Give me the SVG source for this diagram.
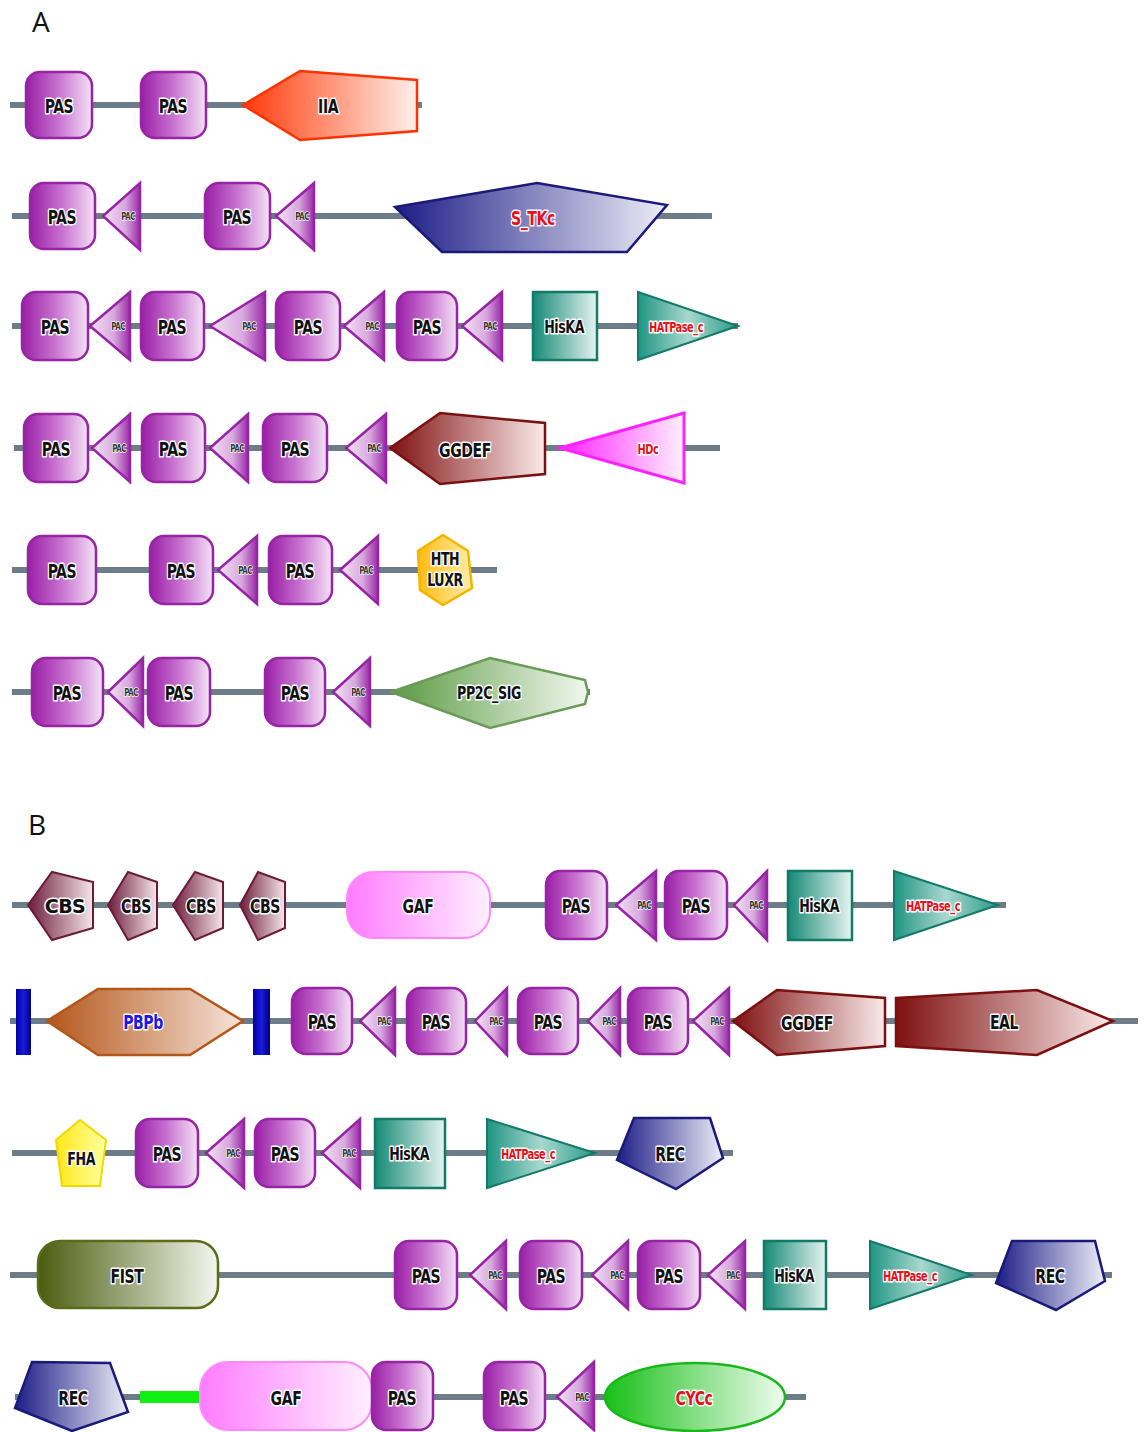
<svg xmlns="http://www.w3.org/2000/svg" width="1144" height="1432" viewBox="0 0 1144 1432">
<defs>
<linearGradient id="gPas" x1="0" y1="0" x2="1" y2="0"><stop offset="0" stop-color="#9a1fa6"/><stop offset="0.5" stop-color="#c873d0"/><stop offset="1" stop-color="#f4e2f6"/></linearGradient>
<linearGradient id="gPac" x1="0" y1="0" x2="1" y2="0"><stop offset="0" stop-color="#f3e4f5"/><stop offset="0.6" stop-color="#d8a8de"/><stop offset="1" stop-color="#9a2aa8"/></linearGradient>
<linearGradient id="gTeal" x1="0" y1="0" x2="1" y2="0"><stop offset="0" stop-color="#168a76"/><stop offset="1" stop-color="#e6f4f1"/></linearGradient>
<linearGradient id="gHat" x1="0" y1="0" x2="1" y2="0"><stop offset="0" stop-color="#1e9582"/><stop offset="0.5" stop-color="#a8d8cf"/><stop offset="1" stop-color="#2a9a88"/></linearGradient>
<linearGradient id="gRed" x1="0" y1="0" x2="1" y2="0"><stop offset="0" stop-color="#ff3a0a"/><stop offset="1" stop-color="#fff0ea"/></linearGradient>
<linearGradient id="gNavy" x1="0" y1="0" x2="1" y2="0"><stop offset="0" stop-color="#1c1c86"/><stop offset="1" stop-color="#eeeef8"/></linearGradient>
<linearGradient id="gMaroon" x1="0" y1="0" x2="1" y2="0"><stop offset="0" stop-color="#801010"/><stop offset="1" stop-color="#fbeaea"/></linearGradient>
<linearGradient id="gMag" x1="0" y1="0" x2="1" y2="0"><stop offset="0" stop-color="#ff22ff"/><stop offset="1" stop-color="#fff0ff"/></linearGradient>
<linearGradient id="gYel" x1="0" y1="0" x2="1" y2="0"><stop offset="0" stop-color="#ffbb10"/><stop offset="1" stop-color="#ffeeaa"/></linearGradient>
<linearGradient id="gGreen" x1="0" y1="0" x2="1" y2="0"><stop offset="0" stop-color="#5a9a42"/><stop offset="1" stop-color="#f2f8ee"/></linearGradient>
<linearGradient id="gCbs" x1="0" y1="0" x2="1" y2="0"><stop offset="0" stop-color="#6e1c3a"/><stop offset="1" stop-color="#f5e6ea"/></linearGradient>
<linearGradient id="gGaf" x1="0" y1="0" x2="1" y2="0"><stop offset="0" stop-color="#ff7cff"/><stop offset="1" stop-color="#fff0ff"/></linearGradient>
<linearGradient id="gPbp" x1="0" y1="0" x2="1" y2="0"><stop offset="0" stop-color="#b4561a"/><stop offset="1" stop-color="#f6e4da"/></linearGradient>
<linearGradient id="gFist" x1="0" y1="0" x2="1" y2="0"><stop offset="0" stop-color="#4a5c0e"/><stop offset="1" stop-color="#f4f6ee"/></linearGradient>
<linearGradient id="gFha" x1="0" y1="0" x2="1" y2="0"><stop offset="0" stop-color="#ffe81a"/><stop offset="1" stop-color="#ffffa0"/></linearGradient>
<linearGradient id="gCyc" x1="0" y1="0" x2="1" y2="0"><stop offset="0" stop-color="#18c018"/><stop offset="1" stop-color="#effcef"/></linearGradient>
<linearGradient id="gBar" x1="0" y1="0" x2="1" y2="0"><stop offset="0" stop-color="#0000a0"/><stop offset="0.5" stop-color="#1a1ae0"/><stop offset="1" stop-color="#00007a"/></linearGradient>
</defs>
<style>
.bb{stroke:#6c7c88;stroke-width:6;fill:none}
.pas{fill:url(#gPas);stroke:#9624a4;stroke-width:2.5}
.pac{fill:url(#gPac);stroke:#9624a4;stroke-width:2.5;stroke-linejoin:miter}
.hk{fill:url(#gTeal);stroke:#137a68;stroke-width:2.5}
.hat{fill:url(#gHat);stroke:#137a68;stroke-width:2}
.rec{fill:url(#gNavy);stroke:#1a1a7a;stroke-width:2.5}
.gg{fill:url(#gMaroon);stroke:#7a1010;stroke-width:2.5}
.cbs{fill:url(#gCbs);stroke:#6a1a36;stroke-width:2}
.gaf{fill:url(#gGaf);stroke:#ff88ff;stroke-width:2}
.t{font-family:"DejaVu Sans Condensed","Liberation Sans Narrow","Liberation Sans",sans-serif;font-weight:bold;text-anchor:middle;dominant-baseline:central;paint-order:stroke;stroke:#fff;stroke-width:3;stroke-linejoin:round;fill:#111;font-size:20px;letter-spacing:-0.5px;transform-box:fill-box;transform-origin:center;transform:scaleX(0.78)}
.s{font-size:10px;stroke-width:1.5;letter-spacing:-0.6px;fill:#333}
.m{font-size:18px}
.hs{font-size:14px;fill:#e8101a;letter-spacing:-0.6px}
.red{fill:#e8101a}
.cb{font-family:"DejaVu Sans",sans-serif;transform:none;font-size:19px}
.lab{font-family:"Open Sans","DejaVu Sans",sans-serif;font-size:28px;fill:#111}
</style>
<text class="lab" x="32" y="32">A</text>
<text class="lab" x="28" y="835">B</text>
<g id="connectors">
<line class="bb" x1="10" y1="105" x2="422" y2="105"/>
<line class="bb" x1="12" y1="216" x2="712" y2="216"/>
<line class="bb" x1="12" y1="326" x2="738" y2="326"/>
<line class="bb" x1="14" y1="448" x2="720" y2="448"/>
<line class="bb" x1="12" y1="570" x2="497" y2="570"/>
<line class="bb" x1="12" y1="692" x2="590" y2="692"/>
<line class="bb" x1="12" y1="905" x2="1006" y2="905"/>
<line class="bb" x1="10" y1="1021" x2="1138" y2="1021"/>
<line class="bb" x1="12" y1="1153" x2="733" y2="1153"/>
<line class="bb" x1="10" y1="1275" x2="1112" y2="1275"/>
<line class="bb" x1="15" y1="1397" x2="806" y2="1397"/>
</g>
<!-- Row A1 -->
<g id="a1-pas1"><rect class="pas" x="26" y="72" width="66" height="66" rx="14"/><text class="t" x="59" y="106">PAS</text></g>
<g id="a1-pas2"><rect class="pas" x="141" y="72" width="65" height="66" rx="14"/><text class="t" x="173" y="106">PAS</text></g>
<g id="a1-iia"><polygon points="243,105 300,71 417,80 417,131 300,140" fill="url(#gRed)" stroke="#ff3300" stroke-width="2.5"/><text class="t" x="328" y="106">IIA</text></g>
<!-- Row A2 -->
<g id="a2-pas1"><rect class="pas" x="30" y="183" width="65" height="66" rx="14"/><text class="t" x="62" y="217">PAS</text></g>
<g id="a2-pac1"><polygon class="pac" points="103,216 140,183 140,250"/><text class="t s" x="128" y="217">PAC</text></g>
<g id="a2-pas2"><rect class="pas" x="205" y="183" width="65" height="66" rx="14"/><text class="t" x="237" y="217">PAS</text></g>
<g id="a2-pac2"><polygon class="pac" points="276,216 314,183 314,250"/><text class="t s" x="302" y="217">PAC</text></g>
<g id="a2-stkc"><polygon points="395,207 537,183 667,205 627,252 442,252" fill="url(#gNavy)" stroke="#1a1a7a" stroke-width="2.5"/><text class="t red" x="533" y="218">S_TKc</text></g>
<!-- Row A3 -->
<g id="a3-pas1"><rect class="pas" x="22" y="292" width="66" height="68" rx="14"/><text class="t" x="55" y="327">PAS</text></g>
<g id="a3-pac1"><polygon class="pac" points="90,326 130,292 130,360"/><text class="t s" x="118" y="327">PAC</text></g>
<g id="a3-pas2"><rect class="pas" x="141" y="292" width="63" height="68" rx="14"/><text class="t" x="172" y="327">PAS</text></g>
<g id="a3-pac2"><polygon class="pac" points="210,326 265,292 265,360"/><text class="t s" x="249" y="327">PAC</text></g>
<g id="a3-pas3"><rect class="pas" x="276" y="292" width="64" height="68" rx="14"/><text class="t" x="308" y="327">PAS</text></g>
<g id="a3-pac3"><polygon class="pac" points="344,326 384,292 384,360"/><text class="t s" x="372" y="327">PAC</text></g>
<g id="a3-pas4"><rect class="pas" x="397" y="292" width="60" height="68" rx="14"/><text class="t" x="427" y="327">PAS</text></g>
<g id="a3-pac4"><polygon class="pac" points="462,326 502,292 502,360"/><text class="t s" x="490" y="327">PAC</text></g>
<g id="a3-hiska"><rect class="hk" x="533" y="292" width="64" height="68"/><text class="t m" x="564" y="327">HisKA</text></g>
<g id="a3-hatpase"><polygon class="hat" points="638,292 738,326 638,360"/><text class="t hs" x="676" y="327">HATPase_c</text></g>
<!-- Row A4 -->
<g id="a4-pas1"><rect class="pas" x="24" y="414" width="64" height="68" rx="14"/><text class="t" x="56" y="449">PAS</text></g>
<g id="a4-pac1"><polygon class="pac" points="92,448 130,414 130,482"/><text class="t s" x="119" y="449">PAC</text></g>
<g id="a4-pas2"><rect class="pas" x="142" y="414" width="63" height="68" rx="14"/><text class="t" x="173" y="449">PAS</text></g>
<g id="a4-pac2"><polygon class="pac" points="210,448 248,414 248,482"/><text class="t s" x="237" y="449">PAC</text></g>
<g id="a4-pas3"><rect class="pas" x="263" y="414" width="64" height="68" rx="14"/><text class="t" x="295" y="449">PAS</text></g>
<g id="a4-pac3"><polygon class="pac" points="346,448 386,414 386,482"/><text class="t s" x="374" y="449">PAC</text></g>
<g id="a4-ggdef"><polygon class="gg" points="390,448 440,413 545,423 545,474 440,484"/><text class="t" x="465" y="450">GGDEF</text></g>
<g id="a4-hdc"><polygon points="560,448 684,413 684,483" fill="url(#gMag)" stroke="#ff22ff" stroke-width="3"/><text class="t hs" x="648" y="449">HDc</text></g>
<!-- Row A5 -->
<g id="a5-pas1"><rect class="pas" x="28" y="536" width="68" height="68" rx="14"/><text class="t" x="62" y="571">PAS</text></g>
<g id="a5-pas2"><rect class="pas" x="150" y="536" width="63" height="68" rx="14"/><text class="t" x="181" y="571">PAS</text></g>
<g id="a5-pac1"><polygon class="pac" points="218,570 257,536 257,604"/><text class="t s" x="245" y="571">PAC</text></g>
<g id="a5-pas3"><rect class="pas" x="269" y="536" width="63" height="68" rx="14"/><text class="t" x="300" y="571">PAS</text></g>
<g id="a5-pac2"><polygon class="pac" points="340,570 378,536 378,604"/><text class="t s" x="366" y="571">PAC</text></g>
<g id="a5-hth"><polygon points="443,535 468,551 472,588 443,605 420,590 418,551" fill="url(#gYel)" stroke="#f5b400" stroke-width="2.5"/><text class="t m" x="445" y="559">HTH</text><text class="t m" x="445" y="580">LUXR</text></g>
<!-- Row A6 -->
<g id="a6-pas1"><rect class="pas" x="32" y="658" width="71" height="68" rx="14"/><text class="t" x="67" y="693">PAS</text></g>
<g id="a6-pac1"><polygon class="pac" points="108,692 143,658 143,726"/><text class="t s" x="131" y="693">PAC</text></g>
<g id="a6-pas2"><rect class="pas" x="148" y="658" width="62" height="68" rx="14"/><text class="t" x="179" y="693">PAS</text></g>
<g id="a6-pas3"><rect class="pas" x="265" y="658" width="60" height="68" rx="14"/><text class="t" x="295" y="693">PAS</text></g>
<g id="a6-pac2"><polygon class="pac" points="333,692 370,658 370,726"/><text class="t s" x="358" y="693">PAC</text></g>
<g id="a6-pp2c"><polygon points="391,692 490,658 585,680 588,692 585,704 490,728" fill="url(#gGreen)" stroke="#6a9a58" stroke-width="2.5"/><text class="t m" x="489" y="693">PP2C_SIG</text></g>
<!-- Row B1 -->
<g id="b1-cbs1"><polygon class="cbs" points="28,905 52,872 93,882 93,928 52,940"/><text class="t cb" x="65" y="906">CBS</text></g>
<g id="b1-cbs2"><polygon class="cbs" points="108,905 128,872 157,882 157,928 128,940"/><text class="t" x="136" y="906">CBS</text></g>
<g id="b1-cbs3"><polygon class="cbs" points="173,905 195,872 223,882 223,928 195,940"/><text class="t" x="201" y="906">CBS</text></g>
<g id="b1-cbs4"><polygon class="cbs" points="240,905 258,872 285,882 285,928 258,940"/><text class="t" x="265" y="906">CBS</text></g>
<g id="b1-gaf"><rect class="gaf" x="347" y="872" width="143" height="66" rx="26"/><text class="t" x="418" y="906">GAF</text></g>
<g id="b1-pas1"><rect class="pas" x="546" y="871" width="61" height="68" rx="14"/><text class="t" x="576" y="906">PAS</text></g>
<g id="b1-pac1"><polygon class="pac" points="616,905 656,871 656,940"/><text class="t s" x="644" y="906">PAC</text></g>
<g id="b1-pas2"><rect class="pas" x="665" y="871" width="62" height="68" rx="14"/><text class="t" x="696" y="906">PAS</text></g>
<g id="b1-pac2"><polygon class="pac" points="734,905 767,871 767,940"/><text class="t s" x="756" y="906">PAC</text></g>
<g id="b1-hiska"><rect class="hk" x="788" y="871" width="64" height="69"/><text class="t m" x="819" y="906">HisKA</text></g>
<g id="b1-hatpase"><polygon class="hat" points="894,871 998,905 894,940"/><text class="t hs" x="933" y="906">HATPase_c</text></g>
<!-- Row B2 -->
<g id="b2-bar1"><rect x="16" y="989" width="15" height="66" fill="url(#gBar)"/></g>
<g id="b2-pbpb"><polygon points="47,1021 98,989 190,989 243,1021 190,1055 98,1055" fill="url(#gPbp)" stroke="#b4561a" stroke-width="2.5"/><text class="t" x="143" y="1022" style="fill:#1a1ae0">PBPb</text></g>
<g id="b2-bar2"><rect x="253" y="989" width="17" height="66" fill="url(#gBar)"/></g>
<g id="b2-pas1"><rect class="pas" x="292" y="988" width="60" height="66" rx="14"/><text class="t" x="322" y="1022">PAS</text></g>
<g id="b2-pac1"><polygon class="pac" points="360,1021 395,988 395,1055"/><text class="t s" x="384" y="1022">PAC</text></g>
<g id="b2-pas2"><rect class="pas" x="407" y="988" width="59" height="66" rx="14"/><text class="t" x="436" y="1022">PAS</text></g>
<g id="b2-pac2"><polygon class="pac" points="475,1021 507,988 507,1055"/><text class="t s" x="496" y="1022">PAC</text></g>
<g id="b2-pas3"><rect class="pas" x="518" y="988" width="60" height="66" rx="14"/><text class="t" x="548" y="1022">PAS</text></g>
<g id="b2-pac3"><polygon class="pac" points="588,1021 620,988 620,1055"/><text class="t s" x="609" y="1022">PAC</text></g>
<g id="b2-pas4"><rect class="pas" x="628" y="988" width="60" height="66" rx="14"/><text class="t" x="658" y="1022">PAS</text></g>
<g id="b2-pac4"><polygon class="pac" points="693,1021 729,988 729,1055"/><text class="t s" x="717" y="1022">PAC</text></g>
<g id="b2-ggdef"><polygon class="gg" points="733,1021 777,990 885,998 885,1046 777,1055"/><text class="t" x="807" y="1023">GGDEF</text></g>
<g id="b2-eal"><polygon class="gg" points="896,998 1037,990 1113,1021 1037,1055 896,1046"/><text class="t" x="1004" y="1022">EAL</text></g>
<!-- Row B3 -->
<g id="b3-fha"><polygon points="80,1120 106,1140 100,1186 62,1186 56,1140" fill="url(#gFha)" stroke="#f0d800" stroke-width="2"/><text class="t m" x="81" y="1159">FHA</text></g>
<g id="b3-pas1"><rect class="pas" x="136" y="1119" width="62" height="68" rx="14"/><text class="t" x="167" y="1154">PAS</text></g>
<g id="b3-pac1"><polygon class="pac" points="206,1153 244,1119 244,1188"/><text class="t s" x="233" y="1154">PAC</text></g>
<g id="b3-pas2"><rect class="pas" x="255" y="1119" width="60" height="68" rx="14"/><text class="t" x="285" y="1154">PAS</text></g>
<g id="b3-pac2"><polygon class="pac" points="322,1153 360,1119 360,1188"/><text class="t s" x="349" y="1154">PAC</text></g>
<g id="b3-hiska"><rect class="hk" x="375" y="1119" width="70" height="69"/><text class="t m" x="409" y="1154">HisKA</text></g>
<g id="b3-hatpase"><polygon class="hat" points="487,1119 595,1153 487,1188"/><text class="t hs" x="528" y="1154">HATPase_c</text></g>
<g id="b3-rec"><polygon class="rec" points="634,1118 710,1118 723,1158 676,1189 617,1160"/><text class="t" x="670" y="1154">REC</text></g>
<!-- Row B4 -->
<g id="b4-fist"><rect x="38" y="1241" width="180" height="67" rx="22" fill="url(#gFist)" stroke="#5a6c1a" stroke-width="2.5"/><text class="t" x="127" y="1276">FIST</text></g>
<g id="b4-pas1"><rect class="pas" x="395" y="1241" width="62" height="68" rx="14"/><text class="t" x="426" y="1276">PAS</text></g>
<g id="b4-pac1"><polygon class="pac" points="470,1275 506,1241 506,1309"/><text class="t s" x="495" y="1276">PAC</text></g>
<g id="b4-pas2"><rect class="pas" x="520" y="1241" width="62" height="68" rx="14"/><text class="t" x="551" y="1276">PAS</text></g>
<g id="b4-pac2"><polygon class="pac" points="592,1275 628,1241 628,1309"/><text class="t s" x="617" y="1276">PAC</text></g>
<g id="b4-pas3"><rect class="pas" x="638" y="1241" width="62" height="68" rx="14"/><text class="t" x="669" y="1276">PAS</text></g>
<g id="b4-pac3"><polygon class="pac" points="708,1275 745,1241 745,1309"/><text class="t s" x="733" y="1276">PAC</text></g>
<g id="b4-hiska"><rect class="hk" x="764" y="1241" width="62" height="68"/><text class="t m" x="794" y="1276">HisKA</text></g>
<g id="b4-hatpase"><polygon class="hat" points="870,1241 972,1275 870,1309"/><text class="t hs" x="910" y="1276">HATPase_c</text></g>
<g id="b4-rec"><polygon class="rec" points="1012,1241 1095,1241 1105,1281 1056,1310 996,1283"/><text class="t" x="1050" y="1276">REC</text></g>
<!-- Row B5 -->
<g id="b5-rec"><polygon class="rec" points="32,1362 110,1363 128,1412 72,1431 15,1408"/><text class="t" x="73" y="1398">REC</text></g>
<g id="b5-link"><rect x="140" y="1391" width="60" height="12" fill="#11ee11"/></g>
<g id="b5-gaf"><rect class="gaf" x="200" y="1362" width="172" height="68" rx="28"/><text class="t" x="286" y="1398">GAF</text></g>
<g id="b5-pas1"><rect class="pas" x="372" y="1362" width="61" height="68" rx="14"/><text class="t" x="402" y="1398">PAS</text></g>
<g id="b5-pas2"><rect class="pas" x="484" y="1362" width="61" height="68" rx="14"/><text class="t" x="514" y="1398">PAS</text></g>
<g id="b5-pac1"><polygon class="pac" points="557,1397 594,1362 594,1430"/><text class="t s" x="582" y="1398">PAC</text></g>
<g id="b5-cycc"><ellipse cx="695" cy="1397" rx="90" ry="34" fill="url(#gCyc)" stroke="#18b818" stroke-width="2.5"/><text class="t red" x="694" y="1398">CYCc</text></g>
</svg>
